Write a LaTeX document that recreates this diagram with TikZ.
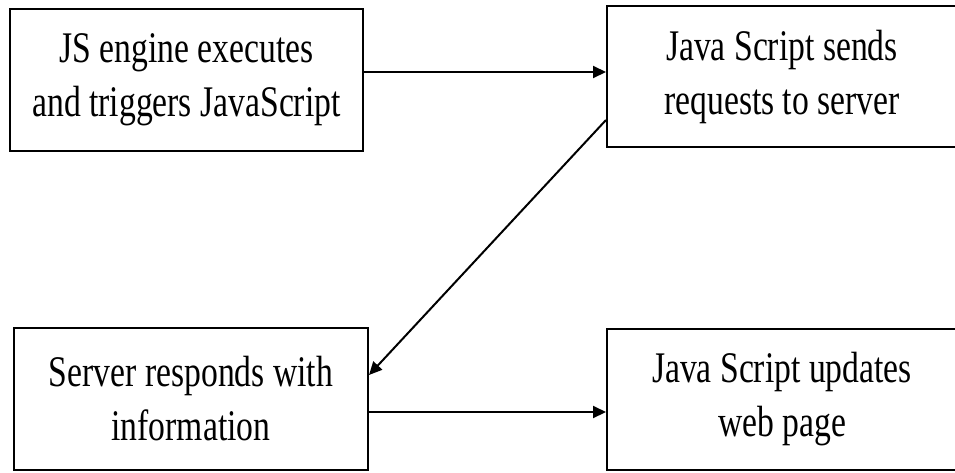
\documentclass[tikz,border=0pt]{standalone}
\usepackage{fontspec}
\setmainfont[FakeStretch=0.77]{Liberation Serif}
\usetikzlibrary{arrows.meta}
\tikzset{
  box/.style={draw=black, line width=2pt, align=center, inner sep=0pt,
    font=\fontsize{43.7}{54}\selectfont, text=black},
  conn/.style={line width=2pt, -{Triangle[length=13pt,width=12pt]}}
}
\begin{document}
\begin{tikzpicture}[x=1pt,y=-1pt]
\useasboundingbox (0,0) rectangle (955,472);
\clip (0,0) rectangle (955,472);
\fill[white] (0,0) rectangle (955,472);
\node[box, minimum width=353pt, minimum height=142pt] (b1) at (186.5,80) {JS engine executes\\and triggers JavaScript};
\node[box, minimum width=350pt, minimum height=141pt] (b2) at (782,76.5) {Java Script sends\\requests to server};
\node[box, minimum width=354pt, minimum height=142pt] (b3) at (191,399) {Server responds with\\information};
\node[box, minimum width=350pt, minimum height=141pt] (b4) at (782,399.5) {Java Script updates\\web page};
\draw[conn] ([yshift=8pt]b1.east) -- ([yshift=8pt]b1.east -| b2.west);
\draw[conn] ([yshift=-43.5pt]b2.west) -- ([yshift=24pt]b3.east);
\draw[conn] ([yshift=-13pt]b3.east) -- ([yshift=-13pt]b3.east -| b4.west);
\end{tikzpicture}
\end{document}
